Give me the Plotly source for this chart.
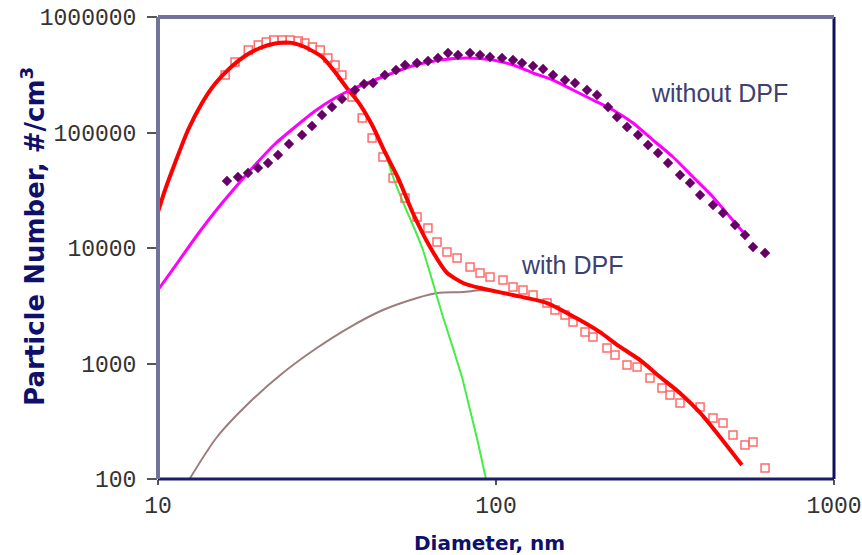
import plotly.graph_objects as go

# ---- data (diameter in nm, particle number #/cm3) ----
fit_dpf_x = [10, 10.49, 11.23, 12.27, 13.5, 14.73, 16.33, 18.09, 20.03, 22.19, 24.58, 27.2, 30.6, 33.4,
             36.2, 39.1, 43.0, 46.9, 51.3, 56.8, 63.8, 71.6, 79.9, 89.7, 112, 141.6, 177, 203, 233, 267,
             306, 350, 402, 460, 534]
fit_dpf_y = [20500, 31780, 54430, 105100, 180100, 263000, 361800, 459600, 539000, 590000, 600000,
             550000, 450000, 334000, 243000, 184000, 116000, 67800, 40400, 20000, 10200, 6100, 4980,
             4500, 3920, 3340, 2380, 1870, 1390, 1070, 764, 555, 373, 231, 132]

meas_dpf_x = [15.8, 16.9, 18.5, 19.8, 20.9, 22.0, 23.3, 24.6, 26.0, 27.2, 28.6, 30.2, 31.8, 33.4, 35.0,
              37.5, 40.2, 43.0, 46.3, 49.6, 53.8, 58.4, 62.9, 66.9, 71.6, 76.7, 83.8, 89.7, 96.0, 104.9,
              112.3, 120.2, 128.7, 141.6, 149.5, 160.0, 169.0, 183.4, 193.6, 213.0, 225.0, 244.1, 261.4,
              285.5, 309.8, 327.2, 350.3, 401.6, 438.5, 469.5, 502.6, 545.3, 576.0, 625.2]
meas_dpf_y = [314700, 407800, 517800, 572100, 607600, 632200, 632200, 632200, 619700, 595700, 550000,
              517800, 441600, 384100, 314700, 203000, 133500, 89600, 61400, 40400, 27100, 18550, 14900,
              11270, 9235, 8192, 6846, 6075, 5609, 5283, 4596, 4329, 3918, 3341, 2906, 2630, 2287, 1874,
              1696, 1362, 1185, 970, 932, 749, 614, 534, 455, 420, 337, 305, 240, 197, 209, 124.5]

nuc_x = [39.1, 43.0, 46.9, 49.6, 53.8, 57.6, 60.8, 65.1, 69.7, 74.1, 79.3, 83.8, 88.5, 93.4]
nuc_y = [183700, 116100, 67800, 41170, 22650, 14310, 9610, 4977, 2527, 1446, 764, 396, 205, 100]

acc_x = [12.4, 14.95, 18.7, 23.4, 29.5, 37.0, 46.3, 58.4, 66.9, 79.9, 89.7, 100]
acc_y = [100, 231, 464, 828, 1362, 2070, 2906, 3692, 4078, 4159, 4300, 4250]

fit_nodpf_x = [10, 11.46, 13.13, 15.05, 17.48, 19.36, 22.19, 25.43, 29.14,
               33.39, 38.26, 46.9, 56.42, 68.29, 82.07, 97.97, 112.3, 128.7, 147.5, 169.0, 193.6,
               221.9, 254.3, 291.4, 334.0, 382.6, 438.5, 492.4, 538.1]
fit_nodpf_y = [4329, 7563, 13220, 22200, 37280, 52310, 79520, 111600,
               153600, 199000, 242800, 308500, 376600, 424300, 441600, 424300, 384100, 327400, 284700,
               233300, 191200, 156600, 120900, 86100, 61380, 41170, 27640, 18550, 13750]

meas_nodpf_x = [16.0, 17.24, 18.46, 19.76, 21.16, 22.65, 24.41, 26.67, 28.55, 30.56, 32.71, 35.03, 38.26,
                40.70, 43.26, 46.9, 50.6, 53.81, 58.38, 62.92, 67.35, 72.11, 77.20, 83.76, 89.69, 95.99,
                104.2, 112.3, 119.4, 128.7, 137.8, 147.5, 160.0, 171.3, 185.9, 199.0, 214.5, 228.0,
                244.1, 263.1, 281.7, 301.5, 322.8, 350.3, 375.0, 401.6, 438.5, 469.5, 509.5, 545.3,
                576.0, 625.2]
meas_nodpf_y = [38030, 41170, 44600, 49280, 54430, 63870, 79520, 95140, 113800, 141800, 166300, 195000,
                233300, 263000, 268300, 314700, 347600, 384100, 399700, 415900, 441600, 487900, 468800,
                487900, 468800, 450500, 441600, 424300, 399700, 376600, 354600, 314700, 284700, 268300,
                233300, 211200, 166300, 136200, 111600, 95140, 77950, 66460, 54430, 42850, 36540, 28760,
                23570, 20090, 15820, 12960, 10200, 9050]

x_ticks = [10, 100, 1000]
x_tick_text = ["10", "100", "1000"]
y_ticks = [100, 1000, 10000, 100000, 1000000]
y_tick_text = ["100", "1000", "10000", "100000", "1000000"]

fig = go.Figure()
fig.add_trace(go.Scatter(x=acc_x, y=acc_y, mode="lines",
                         line=dict(color="#9c7c7c", width=2, shape="spline", smoothing=0.8)))
fig.add_trace(go.Scatter(x=nuc_x, y=nuc_y, mode="lines",
                         line=dict(color="#44ee44", width=2, shape="spline", smoothing=0.5)))
fig.add_trace(go.Scatter(x=meas_dpf_x, y=meas_dpf_y, mode="markers",
                         marker=dict(symbol="square-open", size=8, color="#ff6a6a", line=dict(width=1.5))))
fig.add_trace(go.Scatter(x=fit_dpf_x, y=fit_dpf_y, mode="lines",
                         line=dict(color="#ff0000", width=4, shape="spline", smoothing=0.6)))
fig.add_trace(go.Scatter(x=fit_nodpf_x, y=fit_nodpf_y, mode="lines",
                         line=dict(color="#ff00ff", width=3, shape="spline", smoothing=0.6)))
fig.add_trace(go.Scatter(x=meas_nodpf_x, y=meas_nodpf_y, mode="markers",
                         marker=dict(symbol="diamond", size=8, color="#660066")))

fig.update_layout(
    width=862, height=555,
    margin=dict(l=158, r=28, t=17, b=76, autoexpand=False),
    plot_bgcolor="white", paper_bgcolor="white",
    showlegend=False,
    font=dict(family="Liberation Mono", color="#333333"),
    xaxis=dict(type="log", range=[1, 3], tickvals=x_ticks, ticktext=x_tick_text,
               showgrid=False, zeroline=False, showline=False, automargin=False,
               ticks="outside", ticklen=5, tickwidth=2, tickcolor="#555555",
               tickfont=dict(family="Liberation Mono", size=23, color="#333333")),
    yaxis=dict(type="log", range=[2, 6], tickvals=y_ticks, ticktext=y_tick_text,
               showgrid=False, zeroline=False, showline=False, automargin=False,
               ticks="outside", ticklen=10, tickwidth=2, tickcolor="#555555",
               ticklabelstandoff=6,
               tickfont=dict(family="Liberation Mono", size=23, color="#333333")),
    shapes=[
        dict(type="line", xref="paper", yref="paper", x0=0, x1=1, y0=0, y1=0,
             line=dict(color="#1c1c6a", width=3)),
        dict(type="line", xref="paper", yref="paper", x0=1, x1=1, y0=0, y1=1,
             line=dict(color="#10105e", width=3)),
        dict(type="line", xref="paper", yref="paper", x0=0, x1=0, y0=0, y1=1,
             line=dict(color="#72729a", width=4)),
        dict(type="line", xref="paper", yref="paper", x0=0, x1=1, y0=1, y1=1,
             line=dict(color="#72729a", width=4)),
    ],
    annotations=[
        dict(text="<b>Diameter, nm</b>", xref="paper", yref="paper", x=0.491, y=0,
             xanchor="center", yanchor="middle", yshift=-64, showarrow=False,
             font=dict(family="DejaVu Sans", size=20, color="#10106a")),
        dict(text="<b>Particle Number, #/cm<sup>3</sup></b>", xref="paper", yref="paper",
             x=0, y=0.524, xanchor="center", yanchor="middle", xshift=-125, textangle=-90,
             showarrow=False, font=dict(family="DejaVu Sans", size=26, color="#10106a")),
        dict(text="without DPF", x=2.6627, y=5.342, xref="x", yref="y", showarrow=False,
             font=dict(family="Liberation Sans", size=25, color="#404070")),
        dict(text="with DPF", x=2.2249, y=3.853, xref="x", yref="y", showarrow=False,
             font=dict(family="Liberation Sans", size=25, color="#404070")),
    ],
)

fig.write_html("out.html")
